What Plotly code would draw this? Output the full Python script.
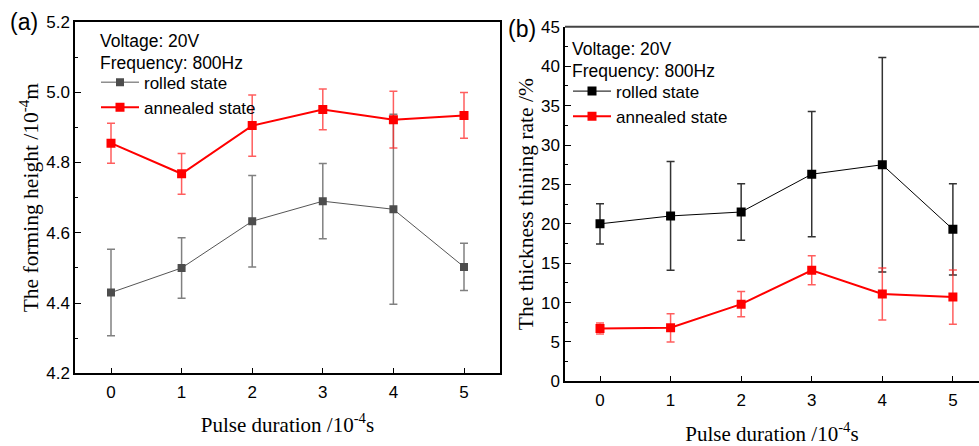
import plotly.graph_objects as go

pulse = [0, 1, 2, 3, 4, 5]

height_rolled = [4.430, 4.500, 4.633, 4.690, 4.667, 4.503]
height_rolled_err = [0.123, 0.086, 0.130, 0.107, 0.270, 0.067]
height_annealed = [4.855, 4.768, 4.905, 4.951, 4.922, 4.934]
height_annealed_err = [0.057, 0.058, 0.087, 0.058, 0.081, 0.065]

thin_rolled = [20.0, 21.0, 21.5, 26.3, 27.5, 19.3]
thin_rolled_err = [2.55, 6.9, 3.6, 7.95, 13.6, 5.8]
thin_annealed = [6.7, 6.8, 9.8, 14.1, 11.1, 10.7]
thin_annealed_err = [0.7, 1.8, 1.6, 1.85, 3.3, 3.45]

SANS = "Liberation Sans, Arial, sans-serif"
SERIF = "Liberation Serif, Times New Roman, serif"

fig = go.Figure()

# Panel (a)
fig.add_trace(go.Scatter(
    x=pulse, y=height_rolled, name="rolled state", mode="lines+markers",
    line=dict(color="#555555", width=1),
    marker=dict(symbol="square", size=8, color="#4d4d4d"),
    error_y=dict(type="data", array=height_rolled_err, color="#808080", thickness=1.5, width=4),
    xaxis="x", yaxis="y", legend="legend"))
fig.add_trace(go.Scatter(
    x=pulse, y=height_annealed, name="annealed state", mode="lines+markers",
    line=dict(color="#ff0000", width=2),
    marker=dict(symbol="square", size=9, color="#ff0000"),
    error_y=dict(type="data", array=height_annealed_err, color="rgba(255,40,40,0.75)", thickness=1.5, width=4),
    xaxis="x", yaxis="y", legend="legend"))

# Panel (b)
fig.add_trace(go.Scatter(
    x=pulse, y=thin_rolled, name="rolled state", mode="lines+markers",
    line=dict(color="#000000", width=1),
    marker=dict(symbol="square", size=9, color="#000000"),
    error_y=dict(type="data", array=thin_rolled_err, color="#333333", thickness=1.5, width=4),
    xaxis="x2", yaxis="y2", legend="legend2"))
fig.add_trace(go.Scatter(
    x=pulse, y=thin_annealed, name="annealed state", mode="lines+markers",
    line=dict(color="#ff0000", width=2),
    marker=dict(symbol="square", size=9, color="#ff0000"),
    error_y=dict(type="data", array=thin_annealed_err, color="rgba(255,40,40,0.75)", thickness=1.5, width=4),
    xaxis="x2", yaxis="y2", legend="legend2"))

W, H = 979, 446

def px(x):
    return x / W

def py(y):
    # empirical vertical mapping of the rendered page
    return 1 - (y - 8) / 430

axis_common = dict(
    showgrid=False, zeroline=False, showline=True, linecolor="black", linewidth=1.5,
    ticks="inside", tickcolor="black", ticklen=6, tickwidth=1,
    tickfont=dict(family=SANS, size=17, color="black"),
)

fig.update_layout(
    width=W, height=H,
    margin=dict(l=0, r=0, t=0, b=0),
    paper_bgcolor="white", plot_bgcolor="white",
    xaxis=dict(domain=[px(75), px(500)], range=[-0.51, 5.51], anchor="y",
               tickvals=pulse, mirror=True, ticklabelstandoff=2,
               title=dict(text="Pulse duration /10<sup>-4</sup>s",
                          font=dict(family=SERIF, size=21, color="black"), standoff=17),
               **axis_common),
    yaxis=dict(domain=[py(375), py(21)], range=[4.2, 5.2], anchor="x",
               tickvals=[4.2, 4.4, 4.6, 4.8, 5.0, 5.2], ticktext=["4.2", "4.4", "4.6", "4.8", "5.0", "5.2"],
               mirror=True,
               minor=dict(ticks="inside", ticklen=3, tickcolor="black", dtick=0.1, tick0=4.2),
               title=dict(text="The forming height /10<sup>-4</sup>m",
                          font=dict(family=SERIF, size=21.5, color="black"), standoff=2),
               **axis_common),
    xaxis2=dict(domain=[px(565), 1.0], range=[-0.496, 5.37], anchor="y2",
                tickvals=pulse, ticklabelstandoff=2,
                title=dict(text="Pulse duration /10<sup>-4</sup>s",
                           font=dict(family=SERIF, size=21, color="black"), standoff=21),
                **axis_common),
    yaxis2=dict(domain=[py(383), py(26)], range=[0, 45], anchor="x2",
                tickvals=[0, 5, 10, 15, 20, 25, 30, 35, 40, 45],
                minor=dict(ticks="inside", ticklen=3, tickcolor="black", dtick=2.5, tick0=0),
                title=dict(text="The thickness thining rate /%",
                           font=dict(family=SERIF, size=21.5, color="black"), standoff=1),
                **axis_common),
    legend=dict(x=px(96), y=py(64), xanchor="left", yanchor="top",
                bgcolor="rgba(0,0,0,0)", font=dict(family=SANS, size=17, color="black"),
                tracegroupgap=0, itemwidth=38),
    legend2=dict(x=px(568), y=py(73), xanchor="left", yanchor="top",
                 bgcolor="rgba(0,0,0,0)", font=dict(family=SANS, size=17, color="black"),
                 tracegroupgap=0, itemwidth=38),
    showlegend=True,
    shapes=[
        dict(type="line", xref="x2 domain", yref="y2 domain", x0=0, x1=1, y0=1, y1=1,
             line=dict(color="#444444", width=2)),
    ],
    annotations=[
        dict(text="(a)", x=px(8), y=py(21), xref="paper", yref="paper", xanchor="left", yanchor="middle",
             showarrow=False, font=dict(family=SANS, size=23, color="black")),
        dict(text="(b)", x=px(506), y=py(28), xref="paper", yref="paper", xanchor="left", yanchor="middle",
             showarrow=False, font=dict(family=SANS, size=23, color="black")),
        dict(text="Voltage: 20V", x=px(98), y=py(40), xref="paper", yref="paper", xanchor="left", yanchor="middle",
             showarrow=False, font=dict(family=SANS, size=17.5, color="black")),
        dict(text="Frequency: 800Hz", x=px(98), y=py(62), xref="paper", yref="paper", xanchor="left", yanchor="middle",
             showarrow=False, font=dict(family=SANS, size=17.5, color="black")),
        dict(text="Voltage: 20V", x=px(570), y=py(48), xref="paper", yref="paper", xanchor="left", yanchor="middle",
             showarrow=False, font=dict(family=SANS, size=17.5, color="black")),
        dict(text="Frequency: 800Hz", x=px(570), y=py(70), xref="paper", yref="paper", xanchor="left", yanchor="middle",
             showarrow=False, font=dict(family=SANS, size=17.5, color="black")),
    ],
)

fig.write_html("out.html")
